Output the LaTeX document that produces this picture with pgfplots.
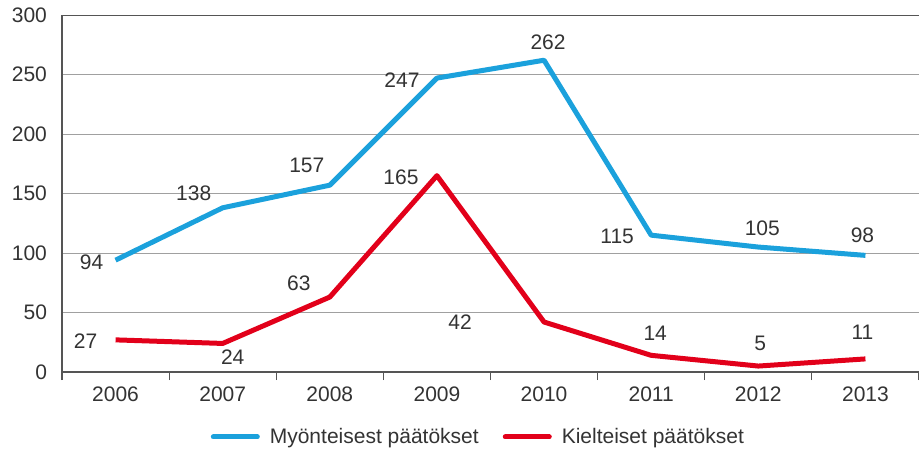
\documentclass[border=0pt]{standalone}
\usepackage{pgfplots}
\pgfplotsset{compat=1.18}
\usepackage{fontspec}
\setmainfont{Liberation Sans}
\definecolor{cblue}{HTML}{1BA1DC}
\definecolor{cred}{HTML}{E2001A}
\definecolor{txt}{HTML}{333333}
\definecolor{axc}{HTML}{555555}
\definecolor{grc}{HTML}{A0A0A0}
\begin{document}
\begin{tikzpicture}[font=\fontsize{10.5}{12}\selectfont\color{txt}]
\useasboundingbox (-31pt,-41.5pt) rectangle (428.5pt,186pt);
\begin{axis}[
  at={(0,0)}, anchor=south west,
  scale only axis, width=428.5pt, height=178.5pt,
  xmin=-0.5, xmax=7.5, ymin=0, ymax=300,
  axis x line*=bottom, axis y line*=left,
  axis line style={axc, line width=0.6pt},
  xtick={0,...,7},
  xticklabels={2006,2007,2008,2009,2010,2011,2012,2013},
  ytick={0,50,...,300},
  ymajorgrids, grid style={grc, line width=0.5pt},
  major tick length=0pt,
  extra x ticks={-0.5,0.5,...,7.5},
  extra x tick labels={},
  extra x tick style={major tick length=4pt, tick align=outside, tick style={axc, line width=0.6pt}, grid=none},
  /pgf/number format/assume math mode=true,
  tick label style={font=\fontsize{10.5}{12}\selectfont, color=txt},
  xticklabel style={yshift=-4pt},
  yticklabel style={xshift=-4pt},
  legend style={at={(0.487,-0.182)}, anchor=center, draw=none, fill=none,
    legend columns=2, font=\fontsize{10.5}{12}\selectfont\color{txt},
    /tikz/every even column/.append style={column sep=10pt}},
  legend cell align=left,
  legend image code/.code={\draw[#1, line width=2.5pt, line cap=round] (0pt,0pt) -- (22pt,0pt); \path (25pt,0pt);},
]
\addplot[cblue, line width=2.5pt, line join=round] coordinates {(0,94) (1,138) (2,157) (3,247) (4,262) (5,115) (6,105) (7,98)};
\addlegendentry{Myönteisest päätökset}
\addplot[cred, line width=2.5pt, line join=round] coordinates {(0,27) (1,24) (2,63) (3,165) (4,42) (5,14) (6,5) (7,11)};
\addlegendentry{Kielteiset päätökset}
\draw[axc, line width=0.6pt] (axis cs:-0.5,300) -- (axis cs:7.5,300);
% blue labels
\node at ([xshift=-12pt,yshift=-1pt]axis cs:0,94) {94};
\node at ([xshift=-14.5pt,yshift=7.5pt]axis cs:1,138) {138};
\node at ([xshift=-11.5pt,yshift=10pt]axis cs:2,157) {157};
\node at ([xshift=-17.5pt,yshift=-1pt]axis cs:3,247) {247};
\node at ([xshift=2pt,yshift=9pt]axis cs:4,262) {262};
\node at ([xshift=-17pt,yshift=-0.5pt]axis cs:5,115) {115};
\node at ([xshift=2pt,yshift=9.5pt]axis cs:6,105) {105};
\node at ([xshift=-1.5pt,yshift=10pt]axis cs:7,98) {98};
% red labels
\node at ([xshift=-15pt,yshift=-0.5pt]axis cs:0,27) {27};
\node at ([xshift=5pt,yshift=-7pt]axis cs:1,24) {24};
\node at ([xshift=-15.5pt,yshift=7pt]axis cs:2,63) {63};
\node at ([xshift=-18pt,yshift=-1pt]axis cs:3,165) {165};
\node at ([xshift=-42pt,yshift=0pt]axis cs:4,42) {42};
\node at ([xshift=2pt,yshift=11pt]axis cs:5,14) {14};
\node at ([xshift=1pt,yshift=11.5pt]axis cs:6,5) {5};
\node at ([xshift=-1.5pt,yshift=13.5pt]axis cs:7,11) {11};
\end{axis}
\end{tikzpicture}
\end{document}
